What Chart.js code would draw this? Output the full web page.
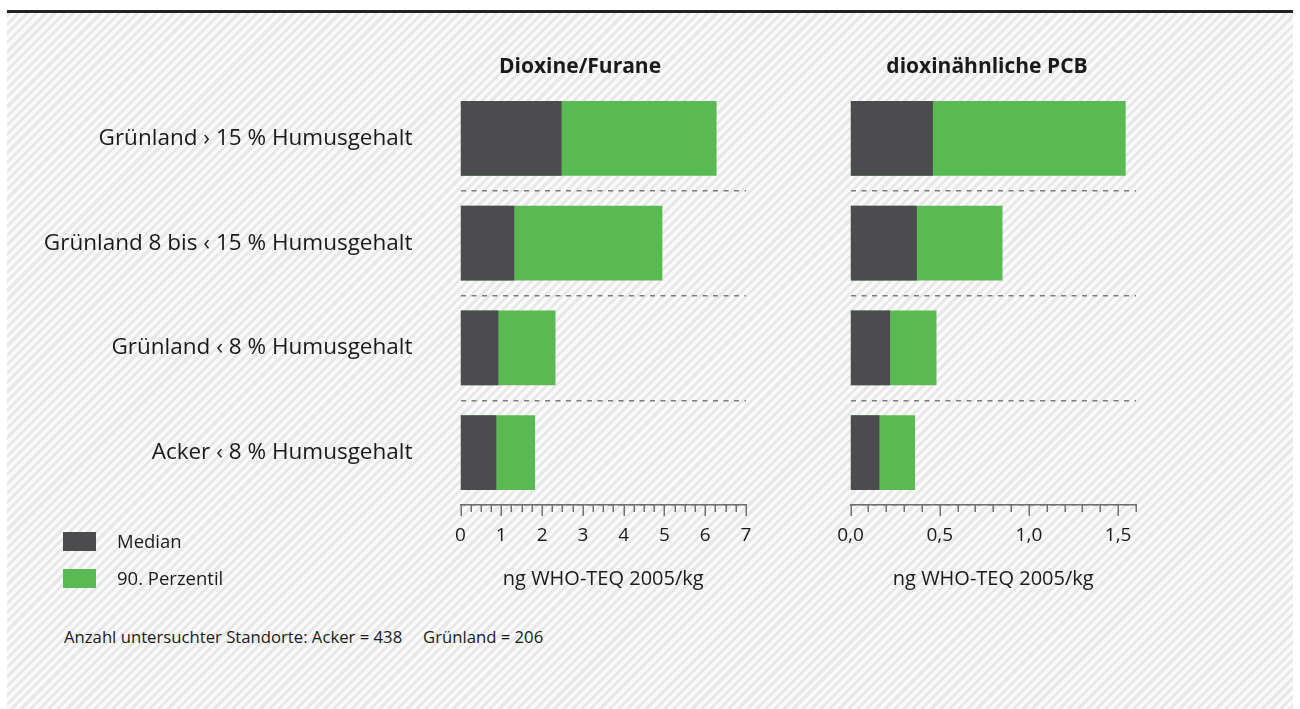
<!DOCTYPE html>
<html>
<head>
<meta charset="utf-8">
<script src="https://cdn.jsdelivr.net/npm/chart.js@4/dist/chart.umd.min.js"></script>
<style>
  body { margin: 0; width: 1300px; height: 709px; background: #fff; position: relative; overflow: hidden; font-family: 'Open Sans', sans-serif; color: #1a1a1a; }
  #rule { position: absolute; left: 7px; top: 10px; width: 1286px; height: 3px; background: #222; }
  #panel { position: absolute; left: 7px; top: 13px; width: 1286px; height: 696px;
    background: repeating-linear-gradient(135deg, #e8e8e8 0 3px, #fafafa 3px 6.5px); }
  canvas { position: absolute; top: 0; }
  .title { position: absolute; width: 320px; text-align: center; font-weight: 700; font-size: 21px; line-height: 26px; top: 52px; }
  .swatch { position: absolute; left: 63px; width: 33px; height: 19px; }
  .legtext { position: absolute; left: 117px; font-size: 18.5px; line-height: 22px; }
  .foot { position: absolute; top: 627px; font-size: 16.7px; line-height: 20px; }
</style>
</head>
<body>
<div id="rule"></div>
<div id="panel"></div>
<canvas id="dioxinChart" width="770" height="600" style="left:0"></canvas>
<canvas id="pcbChart" width="360" height="600" style="left:800px"></canvas>
<div class="title" id="title1" style="left:420px">Dioxine/Furane</div>
<div class="title" id="title2" style="left:827px">dioxinähnliche PCB</div>
<div class="swatch" id="sw1" style="top:532px"></div>
<div class="legtext" id="lg1" style="top:530px"></div>
<div class="swatch" id="sw2" style="top:569px"></div>
<div class="legtext" id="lg2" style="top:567px"></div>
<div class="foot" style="left:64px">Anzahl untersuchter Standorte: Acker = 438</div>
<div class="foot" style="left:423px">Grünland = 206</div>
<script>
const categories = ['Grünland › 15 % Humusgehalt', 'Grünland 8 bis ‹ 15 % Humusgehalt', 'Grünland ‹ 8 % Humusgehalt', 'Acker ‹ 8 % Humusgehalt']
const seriesNames = ['Median', '90. Perzentil']
const dioxinMedian = [2.47, 1.31, 0.92, 0.87]
const dioxinP90 = [6.27, 4.94, 2.32, 1.82]
const pcbMedian = [0.46, 0.37, 0.22, 0.16]
const pcbP90 = [1.54, 0.85, 0.48, 0.36]
const dioxinTickLabels = ['0', '1', '2', '3', '4', '5', '6', '7']
const pcbTickLabels = ['0,0', '0,5', '1,0', '1,5']
const axisTitle = 'ng WHO-TEQ 2005/kg'

const darkGrey = '#4c4c4e'
const green = '#59b952'

Chart.defaults.font.family = "'Open Sans', sans-serif"
Chart.defaults.color = '#1a1a1a'

document.getElementById('sw1').style.background = darkGrey
document.getElementById('sw2').style.background = green
document.getElementById('lg1').textContent = seriesNames[0]
document.getElementById('lg2').textContent = seriesNames[1]

// short minor ticks, long major ticks under the x axis
const axisTicks = {
    id: 'axisTicks',
    afterDraw(chart) {
        const scale = chart.scales.x
        const ctx = chart.ctx
        ctx.save()
        ctx.strokeStyle = '#707070'
        ctx.lineWidth = 1.5
        scale.ticks.forEach((t) => {
            const x = Math.round(scale.getPixelForValue(t.value)) + 0.25
            const len = t.label !== '' ? 11 : 7
            ctx.beginPath()
            ctx.moveTo(x, scale.top)
            ctx.lineTo(x, scale.top + len)
            ctx.stroke()
        })
        ctx.restore()
    }
}

const makeChart = (canvasId, median, p90, max, step, labels, yWidth, showLabels) => {
    const fmt = (v) => step < 0.2 ? v.toFixed(1).replace('.', ',') : String(Math.round(v))
    const isMajor = (v) => step < 0.2 ? Math.abs(v * 2 - Math.round(v * 2)) < 1e-6 : Math.abs(v - Math.round(v)) < 1e-6
    return new Chart(document.getElementById(canvasId), {
        type: 'bar',
        data: {
            labels: categories,
            datasets: [
                { label: seriesNames[0], data: median, backgroundColor: darkGrey, grouped: false, barThickness: 74 },
                { label: seriesNames[1], data: p90, backgroundColor: green, grouped: false, barThickness: 74 },
            ],
        },
        options: {
            indexAxis: 'y',
            responsive: false,
            animation: false,
            layout: { padding: { top: 86, right: 24, left: 0, bottom: 0 } },
            plugins: { legend: { display: false }, tooltip: { enabled: false } },
            scales: {
                x: {
                    min: 0,
                    max: max,
                    ticks: {
                        stepSize: step,
                        autoSkip: false,
                        maxRotation: 0,
                        padding: 8,
                        font: { size: 19 },
                        callback: (v) => isMajor(v) && labels.includes(fmt(v)) ? fmt(v) : '',
                    },
                    grid: { display: true, drawOnChartArea: false, drawTicks: true, tickLength: 11, color: 'rgba(0,0,0,0)' },
                    border: { display: true, color: '#6e6e6e', width: 1.5 },
                    title: { display: true, text: axisTitle, font: { size: 20 }, padding: { top: 4, bottom: 9 } },
                    afterFit: (scale) => { scale.height = 95 },
                },
                y: {
                    offset: true,
                    ticks: { display: showLabels, padding: 48, font: { size: 22.5 } },
                    grid: {
                        offset: true,
                        drawTicks: false,
                        lineWidth: 1.5,
                        color: (c) => (c.index === 0 || c.index === categories.length) ? 'rgba(0,0,0,0)' : '#7c7c7c',
                    },
                    border: { display: false, dash: [5, 5.5] },
                    afterFit: (scale) => { scale.width = yWidth },
                },
            },
        },
        plugins: [axisTicks],
    })
}

makeChart('dioxinChart', dioxinMedian, dioxinP90, 7, 0.25, dioxinTickLabels, 460.5, true)
makeChart('pcbChart', pcbMedian, pcbP90, 1.6, 0.1, pcbTickLabels, 50.5, false)
</script>
</body>
</html>
